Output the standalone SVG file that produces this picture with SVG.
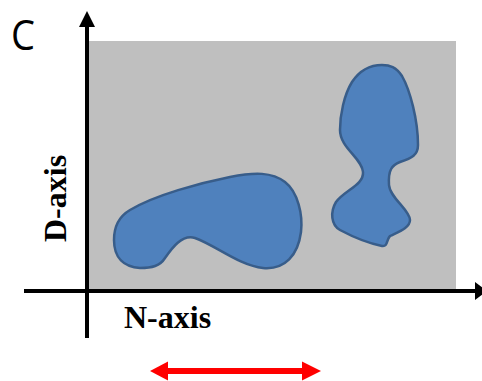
<svg xmlns="http://www.w3.org/2000/svg" width="482" height="381" viewBox="0 0 482 381">
<style>
.blob{fill:#4f81bd;stroke:#385d8a;stroke-width:2.5}
.axis{stroke:#000;stroke-width:4;fill:none}
.lbl{font-family:"Liberation Serif","Times New Roman",serif;font-weight:bold;font-size:32px;fill:#000}
</style>
<rect x="87" y="41" width="369" height="248" fill="#bfbfbf"/>
<g id="blob-left">
<path class="blob" d="M114,240 C114,228 118,217 130,210 C155,195 200,183 230,177 C255,172 272,172 285,182 C298,192 303,215 301,232 C298,255 285,270 263,268 C240,266 215,245 195,238 C182,234 172,248 165,258 C160,266 152,268 140,268 C124,267 114,258 114,240 Z"/>
</g>
<g id="blob-right">
<path class="blob" d="M382,65 C368,65 358,73 352,82 C344,95 340,115 340,130 C340,148 362,158 363,172 C364,185 345,190 336,202 C330,212 331,225 340,230 C355,238 372,244 382,246 C388,247 386,240 390,236 C398,232 410,228 410,220 C410,210 390,198 389,185 C388,170 392,165 400,162 C412,158 418,155 418,145 C418,120 410,90 402,76 C396,67 390,65 382,65 Z"/>
</g>
<g id="connectors">
<line class="axis" x1="87" y1="338" x2="87" y2="25"/>
<polygon points="87,11 79,27 95,27" fill="#000"/>
<line class="axis" x1="24" y1="291" x2="477" y2="291"/>
<polygon points="487,291 475,282 475,300" fill="#000"/>
<line x1="166" y1="371" x2="304" y2="371" stroke="#ff0000" stroke-width="6"/>
<polygon points="150,371 168,361.5 168,380.5" fill="#ff0000"/>
<polygon points="321,371 302,361.5 302,380.5" fill="#ff0000"/>
</g>
<text x="11" y="50" font-family="'Open Sans','Liberation Sans',sans-serif" font-size="42" textLength="24" lengthAdjust="spacingAndGlyphs">C</text>
<text class="lbl" x="124" y="328">N-axis</text>
<text class="lbl" transform="translate(66,242) rotate(-90)">D-axis</text>
</svg>
